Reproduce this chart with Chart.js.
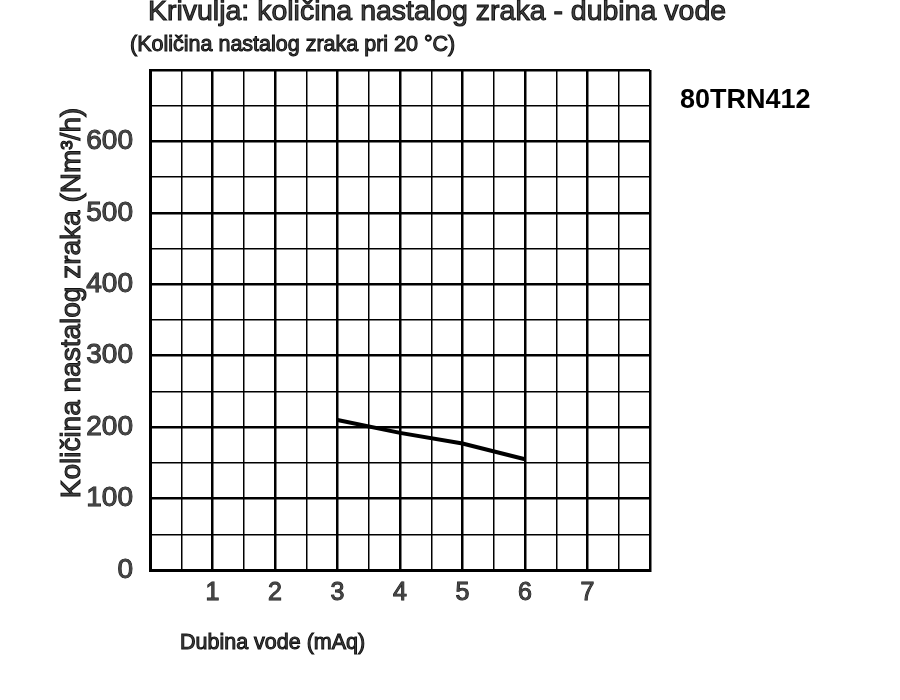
<!DOCTYPE html>
<html>
<head>
<meta charset="utf-8">
<script src="https://cdn.jsdelivr.net/npm/chart.js@4.4.0/dist/chart.umd.min.js"></script>
<style>
  body { margin: 0; background: #fff; }
  #wrap { width: 900px; height: 700px; }
</style>
</head>
<body>
<div id="wrap"><canvas id="airChart" width="900" height="700"></canvas></div>
<script>
// podaci ocitani sa krivulje
const depth = [3, 4, 5, 6];            // Dubina vode (mAq)
const airFlow = [210, 192, 177, 155];  // Nm3/h
const xTickLabels = [1, 2, 3, 4, 5, 6, 7];
const yTickLabels = [0, 100, 200, 300, 400, 500, 600];

const FONT = '"Liberation Sans", Arial, sans-serif';

// naslovi i oznake crtaju se posebno, da budu na istom mjestu kao u originalu
const labelsPlugin = {
  id: 'labels',
  afterDraw(chart) {
    const c = chart.ctx;
    c.save();
    function txt(s, x, y, font, align, rot) {
      c.save();
      c.translate(x, y);
      if (rot) c.rotate(rot);
      c.font = font;
      c.textAlign = align;
      c.textBaseline = 'middle';
      c.lineWidth = 1;
      c.strokeStyle = '#111';
      c.fillStyle = '#444';
      c.fillText(s, 0, 0);
      c.strokeText(s, 0, 0);
      c.restore();
    }
    txt('Krivulja: količina nastalog zraka - dubina vode', 437, 12, '28.5px ' + FONT, 'center');
    txt('(Količina nastalog zraka pri 20 °C)', 130, 45, '21.5px ' + FONT, 'left');
    txt('Količina nastalog zraka (Nm³/h)', 72, 303, '28px ' + FONT, 'center', -Math.PI / 2);
    txt('Dubina vode (mAq)', 180, 643, '21.5px ' + FONT, 'left');
    c.font = 'bold 27px ' + FONT;
    c.fillStyle = '#000';
    c.textAlign = 'left';
    c.textBaseline = 'middle';
    c.fillText('80TRN412', 680, 101);
    c.restore();
  }
};

const ctx = document.getElementById('airChart').getContext('2d');
const chart = new Chart(ctx, {
  type: 'line',
  data: {
    datasets: [{
      data: depth.map((d, i) => ({ x: d, y: airFlow[i] })),
      borderColor: '#000',
      borderWidth: 4,
      pointRadius: 0,
      fill: false,
      tension: 0
    }]
  },
  options: {
    responsive: false,
    animation: false,
    layout: { padding: { top: 70, right: 250, left: 0, bottom: 0 } },
    plugins: { legend: { display: false }, tooltip: { enabled: false } },
    scales: {
      x: {
        type: 'linear',
        min: 0, max: 8,
        afterFit(s) { s.height = 130; },
        afterBuildTicks(s) {
          const t = [];
          for (let v = 0; v <= 8; v += 0.5) t.push({ value: v });
          s.ticks = t;
        },
        ticks: {
          autoSkip: false,
          maxRotation: 0,
          padding: 8,
          color: '#444',
          textStrokeColor: '#111',
          textStrokeWidth: 1,
          font: { family: FONT, size: 25 },
          callback: v => xTickLabels.includes(v) ? String(v) : ''
        },
        grid: {
          color: '#000',
          drawTicks: false,
          lineWidth: c => Number.isInteger(c.tick.value) ? 2.5 : 1.5
        },
        border: { color: '#000', width: 3 }
      },
      y: {
        type: 'linear',
        min: 0, max: 700,
        afterFit(s) { s.width = 150; },
        afterBuildTicks(s) {
          const t = [];
          for (let v = 0; v <= 700; v += 50) t.push({ value: v });
          s.ticks = t;
        },
        ticks: {
          autoSkip: false,
          padding: 17,
          color: '#444',
          textStrokeColor: '#111',
          textStrokeWidth: 1,
          font: { family: FONT, size: 28 },
          callback: v => yTickLabels.includes(v) ? String(v) : ''
        },
        grid: {
          color: '#000',
          drawTicks: false,
          lineWidth: c => c.tick.value % 100 === 0 ? 2.5 : 1.5
        },
        border: { color: '#000', width: 3 }
      }
    }
  },
  plugins: [labelsPlugin]
});
</script>
</body>
</html>
